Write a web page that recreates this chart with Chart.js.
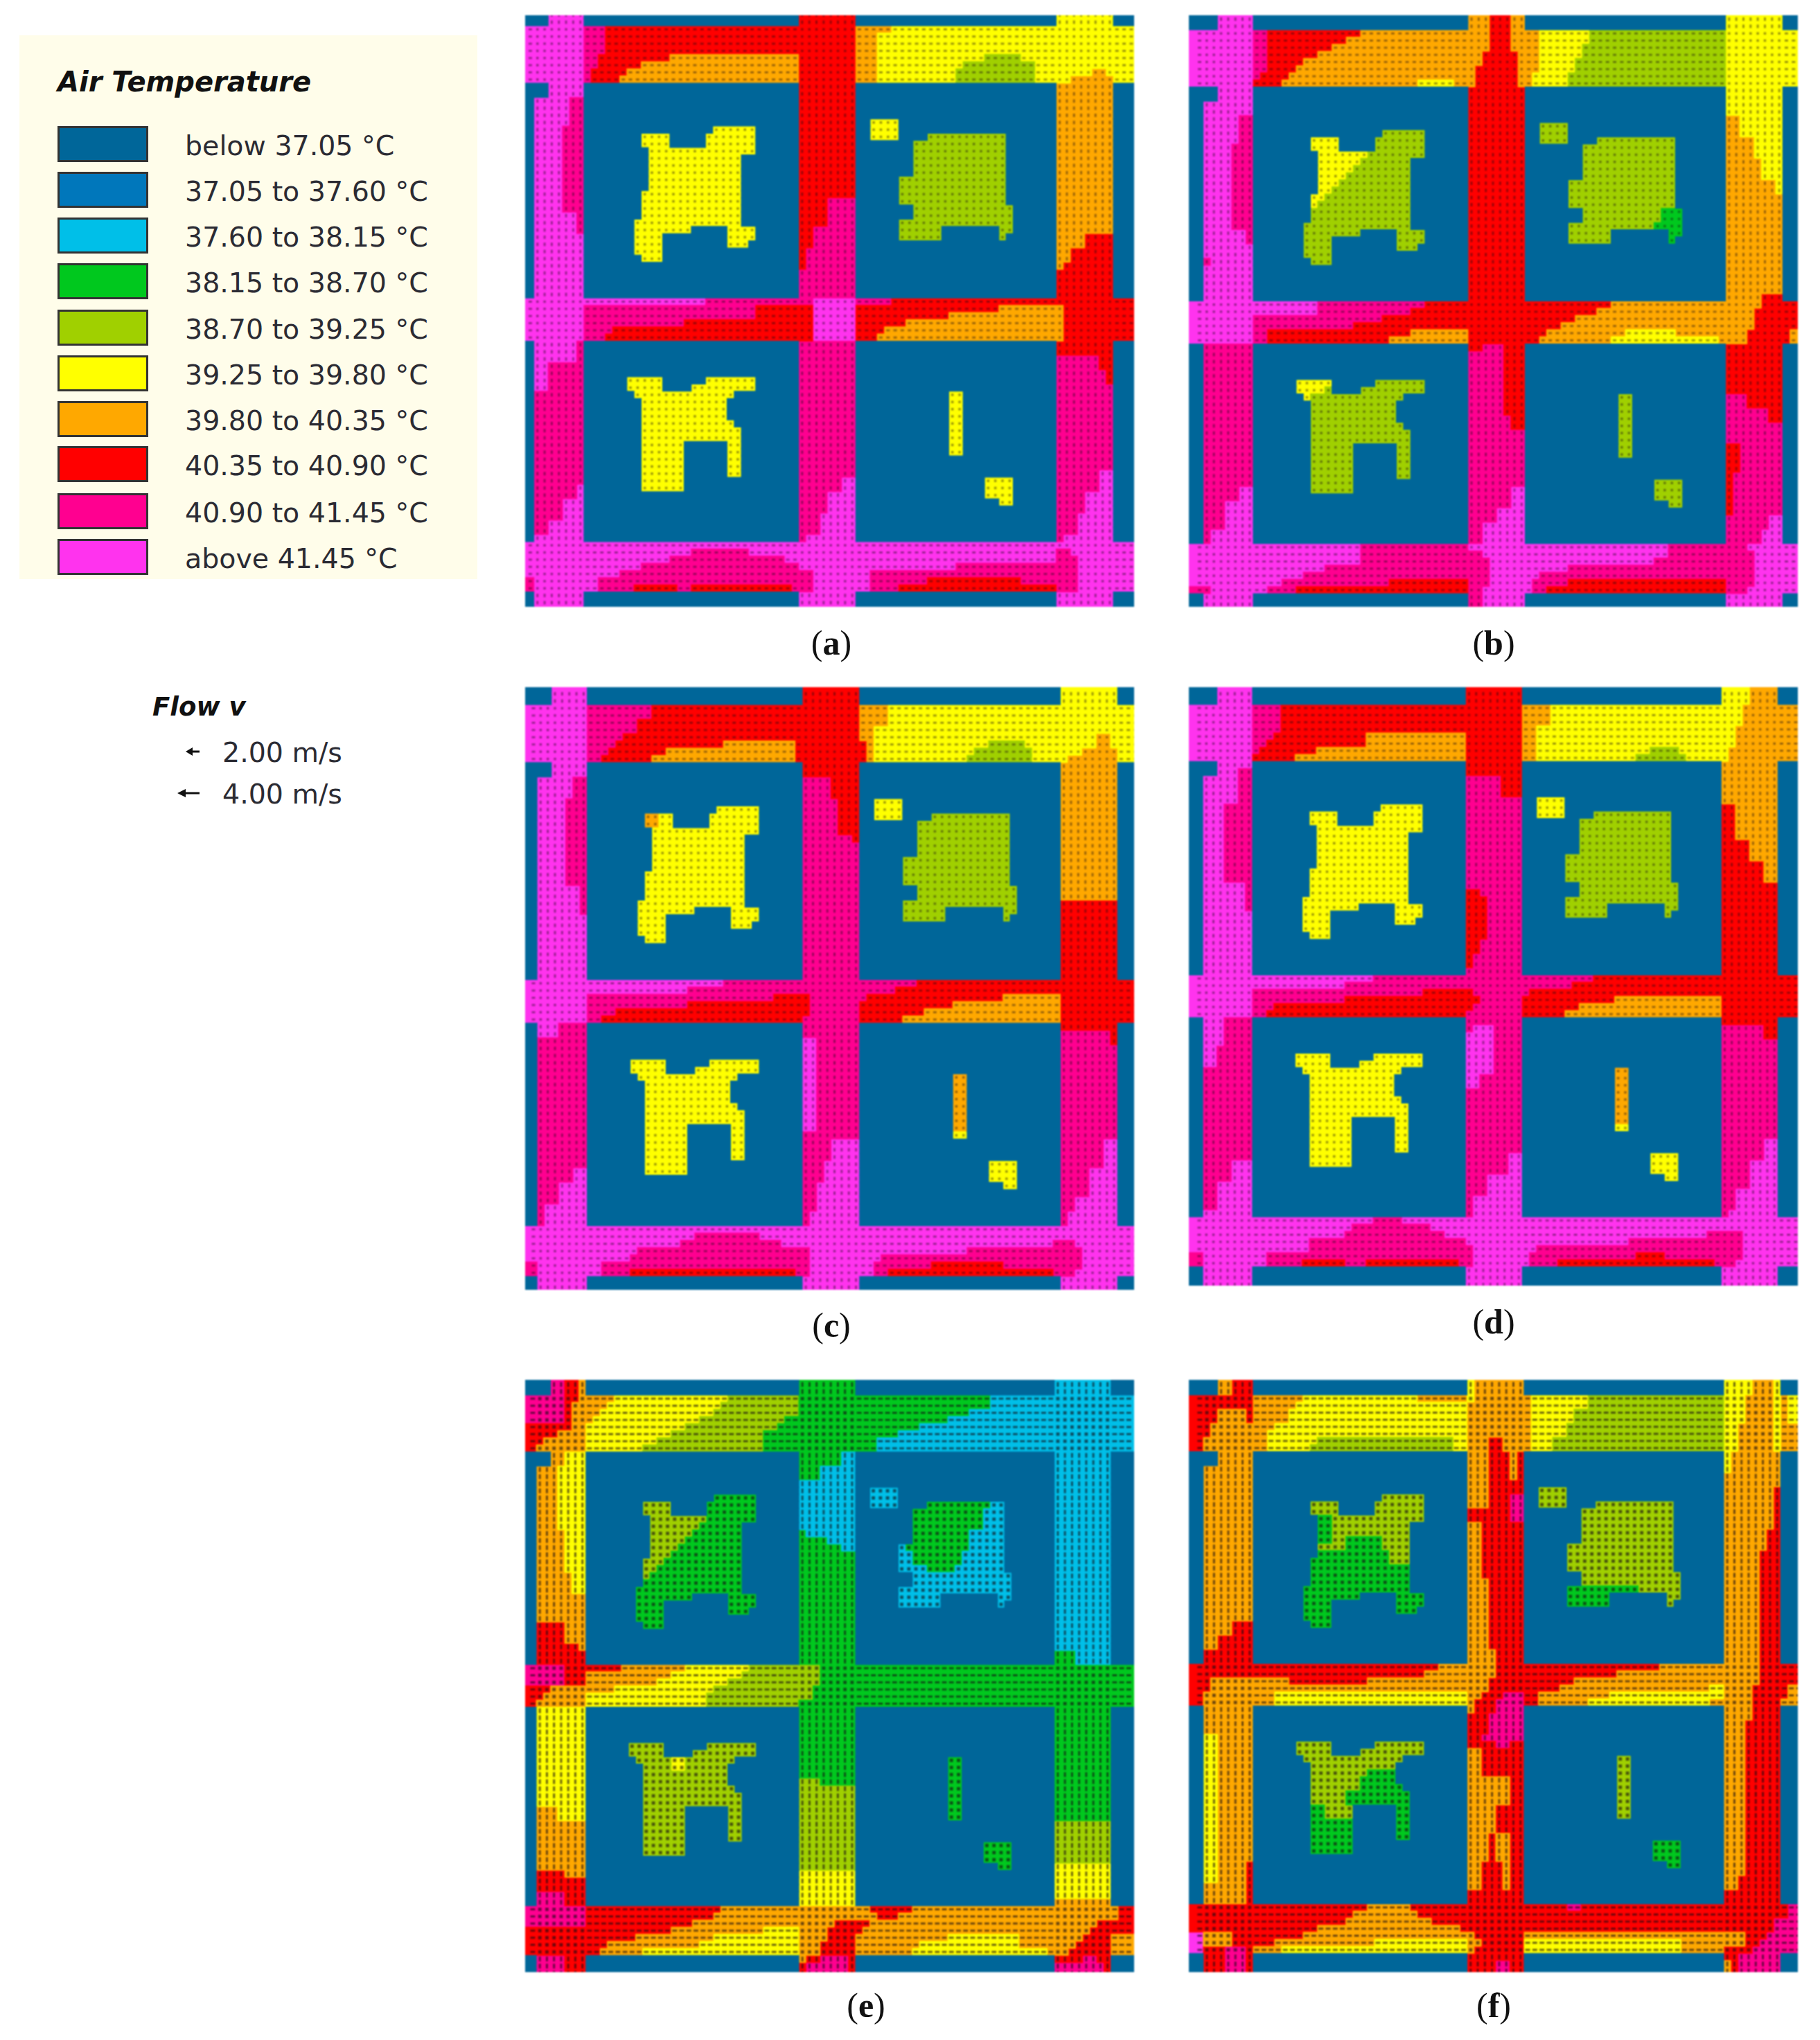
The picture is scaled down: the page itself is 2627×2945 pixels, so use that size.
<!DOCTYPE html>
<html>
<head>
<meta charset="utf-8">
<title>Air Temperature</title>
<script src="https://cdn.jsdelivr.net/npm/chart.js"></script>
<style>
  html, body { margin: 0; background: #fff; }
  #page { position: relative; width: 2627px; height: 2945px; overflow: hidden; }
  #page canvas { position: absolute; filter: blur(0.9px); }
  .txt { position: absolute; white-space: nowrap; transform: translateY(-50%); color: #2b2b33; font-family: "DejaVu Sans", sans-serif; font-size: 39.5px; }
  .head { font-weight: bold; font-style: italic; color: #111; }
  .cap { position: absolute; transform: translate(-50%, -50%); font-family: "Liberation Serif", serif; font-size: 50px; color: #111; }
  .sw { position: absolute; left: 83px; width: 125px; height: 46px; border: 3px solid #333; }
</style>
</head>
<body>
<div id="page"></div>
<script>
// legend
const legendLabels = ['below 37.05 °C', '37.05 to 37.60 °C', '37.60 to 38.15 °C', '38.15 to 38.70 °C', '38.70 to 39.25 °C',
    '39.25 to 39.80 °C', '39.80 to 40.35 °C', '40.35 to 40.90 °C', '40.90 to 41.45 °C', 'above 41.45 °C'];
const classLetters = ['a', 'b', 'c', 'd', 'e', 'f', 'g', 'h', 'i', 'j'];
const classColors = ['#006699', '#0077bb', '#00bfe8', '#00c81e', '#a0d000', '#ffff00', '#ffa800', '#ff0000', '#ff0090', '#ff33ee'];
const flowLabels = ['2.00 m/s', '4.00 m/s'];
const panelLetters = ['a', 'b', 'c', 'd', 'e', 'f'];

// site geometry, same in all six runs: "rows cols" in model cells
const streets = ['0-2 x3-8 x38-46 x74-82', '2-10 x0-85', '10-12 x3-8 x38-46 x74-82', '12-40 x1-8 x38-46 x74-82',
    '40-46 x0-85', '46-74 x1-8 x38-46 x74-82', '74-81 x0-85', '81-85 x1-8 x38-46 x74-82'];
const lotNW = ['16-17 x26-32', '17-19 x16-20 x25-32', '19-20 x17-32', '20-25 x17-30', '25-29 x16-30', '29-30 x15-30',
    '30-31 x15-23 x28-32', '31-32 x15-19 x28-32', '32-33 x15-19 x28-31', '33-34 x15-19', '34-35 x16-19'];
const lotNE = ['15-18 x48-52', '17-18 x56-67', '18-23 x54-67', '23-27 x52-67', '27-29 x54-68', '29-30 x52-68',
    '30-31 x52-58 x66-68', '31-32 x52-58 x66-67'];
const lotSW = ['51-52 x14-19 x25-32', '52-53 x14-19 x23-32', '53-54 x15-29', '54-57 x16-28', '57-58 x16-29', '58-60 x16-30',
    '60-65 x16-22 x28-30', '65-67 x16-22'];
const lotSE = ['53-62 x59-61', '65-68 x64-68', '68-69 x66-68'];

// temperature class, later entries paint over earlier ones
const tempA = ['2-6 i8-11 h11-38', '6-7 i8-10 h10-20 g20-38', '7-8 i8-10 h10-16 g16-38', '8-9 i8-9 h9-14 g14-38', '9-10 i8-9 h9-13 g13-38',
    '0-26 h38-46', '26-30 h38-42 i42-46', '30-33 h38-40 i40-46', '33-36 h38-39 i39-46', '36-40 i38-46',
    '2-10 f46-85', '2-3 g46-51', '3-10 g46-49', '6-7 e64-69', '7-8 e61-71', '8-10 e60-71',
    '0-2 f74-82', '8-9 g79-81', '9-10 g76-82', '10-31 g74-82', '31-33 g74-78 h78-82', '33-35 g74-76 h76-82', '35-36 g74-75 h75-82', '36-48 h74-85',
    '40-41 j8-25 i25-38 i38-40', '41-42 i8-32 h32-40', '42-43 i8-32 h32-40', '43-44 i8-22 h22-40', '44-45 i8-12 h12-40', '45-46 i8-11 h11-40',
    '46-65 i38-46', '65-67 i38-44 j44-46', '67-70 i38-42 j42-46', '70-73 i38-41 j41-46', '73-74 i38-39 j39-46',
    '40-41 i46-51 h51-74', '41-42 h46-66 g66-75', '42-43 h46-59 g59-75', '43-44 h46-53 g53-75', '44-45 h46-50 g50-75', '45-46 h46-49 g49-75',
    '48-50 i74-80 h80-82', '50-52 i74-81 h81-82', '52-64 i74-82', '64-67 i74-80 j80-82', '67-70 i74-78 j78-82', '70-73 i74-77 j77-82', '73-74 i74-75 j75-82',
    '12-16 i6-8', '16-28 i5-8', '28-31 i7-8', '46-49 i7-8', '49-53 i3-8', '53-66 i1-8', '66-68 i1-7', '68-71 i1-5', '71-73 i1-3',
    '75-76 i23-31 i74-76', '76-77 i20-36 i74-77', '77-78 i16-38 i60-77', '78-79 i13-40 i48-77', '79-80 i10-40 i48-77 h56-69 i0-1',
    '80-81 i10-15 h15-21 i21-23 h23-37 i37-40 i48-52 h52-74 i74-77 i0-1',
    '16-35 f13-33', '51-67 f13-33', '53-69 f58-69', '15-18 f48-52', '17-32 e52-69'];
const tempB = ['2-3 i8-10 h10-23 g23-38', '3-4 i8-10 h10-21 g21-38', '4-5 i8-10 h10-19 g19-38', '5-6 i8-10 h10-17 g17-38', '6-7 i8-10 h10-15 g15-38',
    '7-8 i8-10 h10-14 g14-38', '8-9 i8-9 h9-13 g13-38', '9-10 h8-12 g12-31 f31-36 g36-38',
    '0-5 g38-41 h41-44 g44-46', '5-7 g38-40 h40-45 g45-46', '7-10 g38-39 h39-45 g45-46', '10-46 h38-46',
    '46-47 h38-40 i40-43 h43-46', '47-56 i38-43 h43-46', '56-58 i38-44 h44-46', '58-66 i38-46', '66-69 i38-44 j44-46', '69-71 i38-42 j42-46', '71-74 i38-40 j40-46', '81-85 i38-40',
    '2-4 g46-48 f48-55 e55-74', '4-6 g46-48 f48-54 e54-74', '6-8 g46-48 f48-53 e53-74', '8-10 g46-47 f47-52 e52-74',
    '0-10 f74-85', '10-14 f74-82', '14-17 g74-76 f76-82', '17-20 g74-78 f78-82', '20-23 g74-79 f79-82', '23-25 g74-81 f81-82', '25-39 g74-82',
    '39-41 g74-79 h79-85', '41-44 g74-78 h78-85', '44-46 g74-77 h77-83 g83-85',
    '40-41 h46-58 g58-74', '41-42 h46-56 g56-74', '42-43 h46-53 g53-74', '43-44 h46-51 g51-74', '44-45 h46-49 g49-60 f60-67 g67-74', '45-46 h46-48 g48-58 f58-73 g73-74',
    '46-53 h74-82', '53-55 i74-77 h77-82', '55-57 i74-80 h80-82', '57-60 i74-82', '60-64 h74-76 i76-82', '64-70 h74-75 i75-82', '70-72 i74-80 j80-82', '72-74 i74-79 j79-82',
    '14-18 i6-8', '18-30 i5-8', '30-32 i7-8', '34-35 i1-2', '46-66 i1-8', '66-68 i1-6', '68-72 i1-4', '72-74 i1-2',
    '40-41 j8-17 i17-32 h32-38', '41-42 j8-17 i17-30 h30-38', '42-43 i8-26 h26-38', '43-44 i8-22 h22-38', '44-45 i8-10 h10-30 g30-38', '45-46 i8-10 h10-27 g27-38',
    '74-75 i23-38 i66-77', '75-76 i23-40 i66-78', '76-77 i23-41 i64-78', '77-78 i18-41 i52-78', '78-79 i15-41 i48-78',
    '79-80 i12-27 h27-38 i38-41 i47-52 h52-74 i74-78', '80-81 i10-14 h14-38 i38-40 i47-49 h49-74 i74-77 i0-2',
    '16-35 e13-33', '51-67 e13-33', '53-69 e58-69', '15-18 e48-52', '17-32 e52-69',
    '17-20 f13-24', '20-21 f13-23', '21-22 f13-22', '22-23 f13-21', '23-24 f13-20', '24-25 f13-19', '25-26 f13-18', '26-27 f13-17', '27-28 f13-16',
    '27-29 d65-69', '29-30 d64-69', '30-32 d66-69', '51-52 f13-19', '52-53 f13-18', '53-54 f13-16'];
const tempC = ['2-4 i8-17 h17-38', '4-6 i8-15 h15-38', '6-7 i8-13 h13-38', '7-8 i8-12 h12-27 g27-37 h37-38', '8-9 i8-11 h11-19 g19-37 h37-38', '9-10 i8-10 h10-17 g17-37 h37-38',
    '0-12 h38-46', '12-15 i38-42 h42-46', '15-20 i38-43 h43-46', '20-21 i38-45 h45-46', '21-62 i38-46', '48-61 j38-40',
    '62-65 i38-42 j42-46', '65-68 i38-41 j41-46', '68-72 i38-40 j40-46', '72-74 i38-39 j39-46',
    '40-41 j8-27 i27-38', '41-42 j8-22 i22-38', '42-43 i8-34 h34-39', '43-44 i8-22 h22-39', '44-45 i8-12 h12-39', '45-46 i8-10 h10-38',
    '2-5 g46-50 f50-74', '5-10 g46-48 f48-74', '7-10 h46-47', '7-8 e64-69', '8-9 e62-70', '9-10 e61-70',
    '40-41 i46-54 h54-74', '41-42 i46-51 h51-74', '42-43 i46-47 h47-66 g66-74', '43-44 h46-59 g59-74', '44-45 h46-55 g55-74', '45-46 h46-52 g52-74',
    '0-6 f74-85', '6-8 f74-79 g79-81 f81-85', '8-9 f74-77 g77-82 f82-85', '9-10 f74-75 g75-82 f82-85', '10-29 g74-82', '29-47 h74-85',
    '47-49 i74-81 h81-82', '49-62 i74-82', '62-66 i74-80 j80-82', '66-70 i74-78 j78-82', '70-72 i74-76 j76-82', '72-74 i74-75 j75-82',
    '12-15 i6-8', '15-27 i5-8', '27-31 i7-8', '46-48 i4-8', '48-66 i1-8', '66-68 i1-6', '68-71 i1-4', '71-74 i1-2',
    '75-76 i23-32', '76-77 i21-35 i73-76', '77-78 i15-39 i61-77', '78-79 i14-39 i49-77', '79-80 i10-39 i48-77 h56-66 i0-1',
    '80-81 i10-14 h14-37 i37-39 i48-50 h50-73 i73-76 i0-1',
    '16-35 f13-33', '17-19 g16-18', '51-67 f13-33', '53-69 f58-69', '53-61 g58-62', '15-18 f48-52', '17-32 e52-69'];
const tempD = ['2-6 i8-12 h12-38', '6-7 i8-11 h11-24 g24-38', '7-8 i8-10 h10-24 g24-38', '8-9 i8-9 h9-17 g17-38', '9-10 h8-14 g14-38',
    '0-12 h38-46', '12-15 i38-43 h43-46', '15-40 i38-46', '28-29 h38-40', '29-35 h38-41', '35-37 h38-40', '37-39 h38-39',
    '40-74 i38-46', '47-48 j39-42', '48-54 j38-42', '54-56 j38-40', '65-68 i38-44 j44-46', '68-71 i38-41 j41-46', '71-74 i38-39 j39-46',
    '40-41 j8-25 i25-38', '41-42 j8-21 i21-38', '42-43 i8-32 h32-39', '43-44 i8-21 h21-40', '44-45 i8-11 h11-39', '45-46 i8-10 h10-38',
    '40-41 i46-56 h56-74', '41-42 i46-53 h53-74', '42-43 i46-47 h47-74', '43-44 h46-59 g59-74', '44-45 h46-54 g54-74', '45-46 h46-52 g52-74',
    '0-2 f74-78 g78-82', '2-5 g46-50 f50-77 g77-85', '5-8 g46-48 f48-76 g76-85', '8-9 g46-48 f48-64 e64-68 f68-75 g75-85', '9-10 g46-48 f48-62 e62-69 f69-75 g75-85',
    '10-16 g74-82', '16-21 h74-76 g76-82', '21-24 h74-78 g78-82', '24-27 h74-80 g80-82', '27-47 h74-85',
    '47-49 i74-80 h80-82', '49-63 i74-82', '63-66 i74-80 j80-82', '66-70 i74-78 j78-82', '70-73 i74-76 j76-82', '73-74 i74-75 j75-82',
    '11-16 i6-8', '16-27 i4-8', '27-31 i7-8', '46-50 i4-8', '50-53 i3-8', '53-66 i1-8', '66-69 i1-5', '69-73 i1-3',
    '74-75 i25-29', '75-76 i22-33', '76-77 i21-35 i72-77', '77-78 i16-38 i61-77', '78-79 i16-39 i48-77', '79-80 i10-39 i47-77 h62-66 i0-1',
    '80-81 i10-15 h15-21 i21-24 h24-37 i37-39 i47-51 h51-73 i73-76 i0-1',
    '16-35 f13-33', '51-67 f13-33', '53-69 f58-69', '53-61 g58-62', '15-18 f48-52', '17-32 e52-69'];
const tempE = ['0-2 i3-5 h5-7 g7-8', '2-3 i0-5 h5-7 g7-8', '3-6 i0-5 h5-6 g6-8', '6-7 h0-6 g6-8', '7-8 h0-4 g4-8', '8-9 h0-2 g2-8', '9-10 h0-1 g1-8',
    '2-3 g8-12 f12-28 e28-38', '3-4 g8-11 f11-27 e27-38', '4-5 g8-10 f10-26 e26-38', '5-6 g8-9 f9-24 e24-36 d36-38', '6-7 f8-22 e22-35 d35-38', '7-8 f8-20 e20-33 d33-38', '8-9 f8-18 e18-33 d33-38', '9-10 f8-16 e16-33 d33-38',
    '0-10 d38-46', '10-12 d38-44 c44-46', '12-14 d38-41 c41-46', '14-21 c38-46', '21-22 d38-39 c39-46', '22-23 d38-42 c42-46', '23-24 d38-44 c44-46', '24-56 d38-46', '56-57 e38-41 d41-46', '57-69 e38-46', '69-74 f38-46',
    '2-4 d46-65 c65-85', '4-5 d46-62 c62-85', '5-6 d46-59 c59-85', '6-7 d46-55 c55-85', '7-8 d46-52 c52-85', '8-10 d46-49 c49-85',
    '0-2 c74-82', '10-38 c74-82', '38-40 d74-77 c77-82', '40-46 d46-85', '46-62 d74-82', '62-68 e74-82', '68-73 f74-82', '73-74 g74-82',
    '40-41 h8-13 g13-22 f22-31 e31-38', '41-42 g8-20 f20-30 e30-38', '42-43 g8-18 f18-28 e28-38', '43-44 g8-12 f12-26 e26-40', '44-45 f8-25 e25-40', '45-46 f8-25 e25-38', '40-43 e38-41',
    '10-12 g3-5 f5-8', '12-21 g1-4 f4-8', '21-27 g1-5 f5-8', '27-30 g1-6 f6-8', '30-34 g1-8', '34-37 h1-5 g5-8', '37-38 h1-7 g7-8', '38-40 h1-8',
    '40-43 i0-5 h5-8', '43-44 h0-3 g3-8', '44-45 h0-2 g2-8', '45-46 h0-1 g1-8', '46-60 f1-8', '60-62 g1-4 f4-8', '62-69 g1-8', '69-70 h1-5 g5-8', '70-72 h1-8', '72-74 i1-5 h5-8',
    '74-77 i0-8', '77-81 h0-8', '81-85 i1-5 h5-8',
    '74-75 h8-27 g27-38', '75-76 h8-26 g26-38', '76-77 h8-23 g23-38', '77-78 h8-20 g20-33 f33-38', '78-79 h8-15 g15-26 f26-38', '79-80 h8-11 g11-24 f24-38', '80-81 h8-10 g10-16 f16-38',
    '74-76 g38-46', '76-77 g38-43 h43-46', '77-79 g38-42 h42-46', '79-81 g38-41 h41-46', '81-82 g38-39 h39-41 i41-45 h45-46', '82-85 h38-39 i39-45 h45-46',
    '74-75 g46-48 h48-54 g54-74', '75-76 g46-49 h49-52 g52-74', '76-77 h46-48 g48-74', '77-78 h46-47 g47-74', '78-79 g46-59 f59-69 g69-74', '79-80 g46-55 f55-69 g69-74', '80-81 g46-54 f54-73 g73-74',
    '74-76 g74-83 h83-85', '76-77 g74-80 h80-85', '77-78 g74-79 h79-85', '78-79 g74-78 h78-82 g82-85', '79-80 g74-77 h77-82 g82-85', '80-81 g74-76 h76-82 g82-85', '81-82 h74-78 i78-80 h80-82', '82-85 i74-81 h81-82',
    '16-35 d13-33', '17-20 e13-25', '20-21 e13-24', '21-22 e13-23', '22-23 e13-22', '23-24 e13-21', '24-25 e13-20', '25-26 e13-19', '26-27 e13-18', '27-28 e13-17', '28-29 e13-16',
    '15-18 c48-52', '17-32 c52-69', '17-18 d53-65', '18-21 d53-64', '21-24 d53-62', '24-26 d54-61', '26-27 d56-60',
    '51-67 e13-33', '52-55 f20-22', '53-69 d58-69'];
const tempF = ['0-2 g3-5 h5-8', '2-4 h0-8', '4-6 h0-3 g3-7 h7-8', '6-8 h0-2 g2-8', '8-10 h0-1 g1-8', '10-34 g1-8', '34-36 g1-5 h5-8', '36-38 g1-3 h3-8', '38-40 h1-8', '40-42 h0-8', '42-44 h0-2 g2-8', '44-46 h0-1 g1-8',
    '46-50 g1-8', '50-71 f1-3 g3-8', '68-71 h7-8', '71-74 g1-7 h7-8', '74-78 h0-8', '78-80 g1-5 h5-8', '80-85 h1-4 i4-7 h7-8',
    '2-3 g8-15 f15-31 g31-38', '3-4 g8-14 f14-38', '4-6 g8-13 f13-38', '6-7 g8-11 f11-38', '7-8 g8-10 f10-38', '8-9 g8-10 f10-17 e17-36 f36-38', '9-10 g8-10 f10-16 e16-36 f36-38',
    '0-3 f38-39 g39-46', '3-8 g38-46', '8-10 g38-41 h41-43 g43-46', '10-14 g38-41 h41-44 g44-45 h45-46', '14-18 g38-41 h41-46', '18-20 h38-46', '16-23 i44-46', '20-28 g38-40 h40-44 h44-46', '23-28 h44-46', '28-38 g38-41 h41-46', '38-40 g38-42 h42-46',
    '40-42 g38-42 h42-46', '42-44 g38-41 h41-46', '44-45 g38-40 h40-43 i43-46', '45-47 g38-39 h39-42 i42-46', '47-50 h38-41 i41-46', '50-51 h38-40 i40-46', '51-52 h38-42 i42-44 h44-46',
    '52-56 g38-40 h40-46', '56-60 g38-44 h44-46', '60-64 g38-42 h42-46', '64-68 g38-41 h41-42 g42-44 h44-46', '68-72 g38-40 h40-43 g43-44 h44-46', '72-74 h38-46', '74-83 h38-46', '82-85 h38-42 i42-44 h44-46',
    '2-4 g46-47 f47-55 e55-74', '4-6 g46-47 f47-53 e53-74', '6-8 g46-47 f47-52 e52-74', '8-10 g46-47 f47-50 e50-74',
    '0-2 f74-78 g78-81 f81-82', '2-6 f74-77 g77-81 f81-82 g82-83 f83-85', '6-10 f74-76 g76-81 f81-82 g82-85', '10-13 f74-75 g75-82', '13-15 g74-82', '15-21 g74-81 h81-82', '21-24 g74-80 h80-82', '24-40 g74-79 h79-82',
    '40-43 g74-79 h79-85', '43-45 g74-78 h78-83 g83-85', '45-46 g74-78 h78-82 g82-85', '46-48 g74-78 h78-82', '48-70 g74-77 h77-82', '70-72 g74-76 h76-82', '72-74 h74-82',
    '40-41 h8-34 g34-38', '41-42 h8-32 g32-38', '42-43 g8-13 h13-24 g24-38', '43-44 g8-38', '44-46 g8-11 f11-38',
    '40-41 h46-65 g65-74', '41-42 h46-59 g59-74', '42-43 h46-53 g53-74', '43-44 h46-51 g51-72 f72-74', '44-45 h46-48 g48-58 f58-74', '45-46 h46-48 g48-55 f55-72 g72-74',
    '74-75 h8-24 g24-30 h30-52 i52-54 h54-85', '75-76 h8-22 g22-31 h31-85', '76-77 h8-21 g21-33 h33-85', '77-78 h8-17 g17-37 h37-85', '78-79 h8-15 g15-39 h39-46 g46-77 h77-85',
    '79-80 h8-11 g11-25 f25-38 g38-40 h40-46 f46-68 g68-77 h77-85', '80-81 g8-12 f12-38 g38-39 h39-46 f46-68 g68-74 h74-78',
    '74-76 i83-85', '76-78 i81-85', '78-79 i80-85', '79-80 i79-85', '80-81 i78-85', '81-82 h74-76 i76-82', '82-85 g74-75 h75-76 i76-82',
    '16-35 e13-33', '19-23 d13-19', '22-24 d21-26', '24-26 d13-27', '26-35 d13-33',
    '15-18 e48-52', '17-32 e52-69', '29-30 d52-62', '30-32 d52-58',
    '51-67 e13-33', '55-56 d24-28', '56-58 d23-30', '58-60 d21-32', '60-65 d26-32', '60-62 d13-18', '62-67 d13-23',
    '53-62 e58-62', '65-69 d63-69'];
const panelTemps = [tempA, tempB, tempC, tempD, tempE, tempF];

const ROWS = 85, COLS = 85;
// placement of each panel on the page and the model window it shows
const panelBox = [[758, 22, 879, 854], [1716, 22, 879, 854], [758, 992, 879, 870], [1716, 992, 879, 864], [758, 1992, 879, 855], [1716, 1992, 879, 855]];
const panelXRange = [[-0.22, 84.9], [-1, 84.1], [-0.66, 84.3], [-0.96, 84.8], [-0.57, 85.25], [-1.03, 84.4]];
const panelYRange = [[0.53, 83.08], [-0.05, 82.85], [-0.42, 82.85], [-0.43, 83.65], [-0.15, 83.35], [-0.14, 83.65]];
const captionPos = [[1200, 928], [2156, 928], [1200, 1913], [2156, 1908], [1250, 2895], [2156, 2895]];
const flowDotSize = [2.5, 2.5, 2.5, 2.5, 3.4, 3.4];
const flowDotAlpha = [0.42, 0.42, 0.42, 0.42, 0.62, 0.62];
const rowBands = [[2, 10], [40, 46], [74, 81]];
const colBands = [[1, 8], [38, 46], [74, 82]];

const page = document.getElementById('page');

function applyLayers(grid, layers, onlyBuilt) {
    layers.forEach(function(layer) {
        const parts = layer.split(' ');
        const rows = parts[0].split('-').map(Number);
        parts.slice(1).forEach(function(part) {
            const letter = part[0];
            const cols = part.slice(1).split('-').map(Number);
            for (let r = rows[0]; r < rows[1] && r < ROWS; r++) {
                for (let c = cols[0]; c < cols[1] && c < COLS; c++) {
                    if (onlyBuilt && grid[r][c] === 'a') continue;
                    grid[r][c] = onlyBuilt ? letter : 'j';
                }
            }
        });
    });
}

function buildGrid(temps) {
    const grid = [];
    for (let r = 0; r < ROWS; r++) grid.push(new Array(COLS).fill('a'));
    [streets, lotNW, lotNE, lotSW, lotSE].forEach(function(mask) { applyLayers(grid, mask, false); });
    applyLayers(grid, temps, true);
    return grid;
}

function inBand(v, bands) {
    return bands.some(function(b) { return v >= b[0] && v < b[1]; });
}

function drawPanel(index) {
    const box = panelBox[index];
    const canvas = document.createElement('canvas');
    canvas.width = box[2];
    canvas.height = box[3];
    canvas.style.left = box[0] + 'px';
    canvas.style.top = box[1] + 'px';
    page.appendChild(canvas);

    const grid = buildGrid(panelTemps[index]);
    const runs = {};
    classLetters.forEach(function(l) { runs[l] = []; });
    const dots = [], dotsAlong = [], dotsDown = [];

    // one extra row above the model so the window edge stays filled
    for (let r = -1; r < ROWS; r++) {
        const row = grid[Math.max(r, 0)];
        let start = 0;
        for (let c = 1; c <= COLS; c++) {
            if (c === COLS || row[c] !== row[start]) {
                runs[row[start]].push({ x: [start === 0 ? -2 : start, c === COLS ? COLS + 2 : c], y: r + 0.5 });
                start = c;
            }
        }
        if (r < 0) continue;
        row.forEach(function(letter, c) {
            if (letter === 'a') return;
            const point = { x: c + 0.5, y: r + 0.5 };
            const h = inBand(r, rowBands), v = inBand(c, colBands);
            if (h && !v) dotsAlong.push(point);
            else if (v && !h) dotsDown.push(point);
            else dots.push(point);
        });
    }

    const datasets = classLetters.map(function(l, i) {
        return {
            type: 'bar', indexAxis: 'y', data: runs[l], backgroundColor: classColors[i], borderWidth: 0,
            grouped: false, barPercentage: 1, categoryPercentage: 1, inflateAmount: 0.5, order: 2
        };
    });
    const mark = 'rgba(20,10,20,' + flowDotAlpha[index] + ')';
    const size = flowDotSize[index];
    datasets.push({ type: 'scatter', data: dots, pointStyle: 'rect', pointRadius: size, pointBackgroundColor: mark, pointBorderWidth: 0, order: 1 });
    datasets.push({ type: 'scatter', data: dotsAlong, pointStyle: 'line', pointRadius: size, pointBorderColor: mark, pointBorderWidth: 3, order: 1 });
    datasets.push({ type: 'scatter', data: dotsDown, pointStyle: 'line', pointRotation: 90, pointRadius: size, pointBorderColor: mark, pointBorderWidth: 3, order: 1 });

    new Chart(canvas, {
        type: 'bar',
        data: { datasets: datasets },
        options: {
            responsive: false,
            animation: false,
            events: [],
            layout: { padding: 0, autoPadding: false },
            plugins: { legend: { display: false }, tooltip: { enabled: false } },
            scales: {
                x: { type: 'linear', display: false, offset: false, min: panelXRange[index][0], max: panelXRange[index][1] },
                y: { type: 'linear', display: false, reverse: true, offset: false, min: panelYRange[index][0], max: panelYRange[index][1] }
            }
        }
    });

    const cap = document.createElement('div');
    cap.className = 'cap';
    cap.style.left = captionPos[index][0] + 'px';
    cap.style.top = captionPos[index][1] + 'px';
    cap.innerHTML = '(<b>' + panelLetters[index] + '</b>)';
    page.appendChild(cap);
}

function addDiv(className, left, top, text, css) {
    const div = document.createElement('div');
    div.className = className;
    div.style.left = left + 'px';
    div.style.top = top + 'px';
    if (text) div.textContent = text;
    if (css) div.style.cssText += css;
    page.appendChild(div);
    return div;
}

function drawLegend() {
    addDiv('', 28, 51, '', 'position:absolute;width:661px;height:785px;background:#fffdea;');
    addDiv('txt head', 83, 118, 'Air Temperature', 'font-size:40px;');
    const rowTop = [208, 274, 340, 406, 473, 539, 605, 670, 738, 804];
    legendLabels.forEach(function(label, i) {
        addDiv('sw', 83, rowTop[i] - 26, '', 'background:' + classColors[i] + ';');
        addDiv('txt', 267, rowTop[i] + 2, label);
    });
    addDiv('txt head', 220, 1020, 'Flow v', 'font-size:37px;');
    addDiv('txt', 321, 1086, flowLabels[0]);
    addDiv('txt', 321, 1146, flowLabels[1]);
    const arrows = document.createElementNS('http://www.w3.org/2000/svg', 'svg');
    arrows.setAttribute('width', '60');
    arrows.setAttribute('height', '90');
    arrows.style.cssText = 'position:absolute;left:240px;top:1070px;';
    arrows.innerHTML = '<path d="M34 15H48" stroke="#111" stroke-width="3"/><path d="M28 15L38 9V21Z" fill="#111"/>' +
        '<path d="M22 75H48" stroke="#111" stroke-width="3"/><path d="M16 75L28 69V81Z" fill="#111"/>';
    page.appendChild(arrows);
}

drawLegend();
panelTemps.forEach(function(t, i) { drawPanel(i); });
</script>
</body>
</html>
